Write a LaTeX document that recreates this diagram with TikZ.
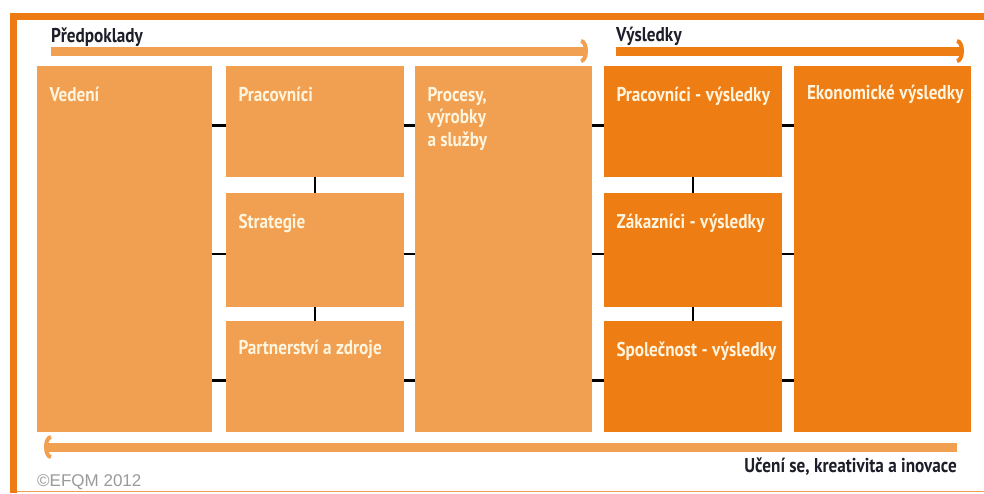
\documentclass[tikz,border=0pt]{standalone}
\usepackage{fontspec}
\setmainfont{PT Sans}
\newfontfamily\efqmfont[FakeStretch=0.86]{PT Sans}
\newfontfamily\efqmnote{Liberation Sans}
\usetikzlibrary{arrows.meta}
\definecolor{efqmlight}{HTML}{F0A050}
\definecolor{efqmdark}{HTML}{EE7D14}
\definecolor{efqmframe}{HTML}{EE7A14}
\definecolor{efqmtext}{HTML}{FFF4DE}
\definecolor{efqmink}{HTML}{1E1E2A}
\definecolor{efqmgray}{HTML}{9A9A9A}
\tikzset{
    boxlabel/.style={anchor=base west,xshift=12.5pt,yshift=-35pt,inner sep=0pt,
        text=efqmtext,align=left,font=\efqmfont\bfseries\fontsize{20}{22.5}\selectfont},
    headtext/.style={anchor=base west,inner sep=0pt,text=efqmink,
        font=\efqmfont\bfseries\fontsize{20}{22}\selectfont},
    link/.style={line width=2.2pt,black},
    flow/.style={line width=9pt,-{Arc Barb[length=7pt,width=24pt,line width=4pt]}}
}
\begin{document}
\begin{tikzpicture}[x=1pt,y=-1pt]
        \useasboundingbox (0,0) rectangle (984,493);
        \fill[white] (0,0) rectangle (984,493);

        % frame
        \fill[efqmframe] (10,13) rectangle (984,20);
        \fill[efqmframe] (10,13) rectangle (17,493);
        \draw[efqmlight,line width=1.5pt] (17,491.5) -- (984,491.5);

        \begin{scope}[every node/.style={rectangle,anchor=north west,
                        inner sep=0pt,outer sep=0pt}]
            \node (ved) at (37,66) [fill=efqmlight,minimum width=175pt,minimum height=366pt,
                label={[boxlabel]north west:Vedení}]{};
            \node (prac) at (226,66) [fill=efqmlight,minimum width=178pt,minimum height=111pt,
                label={[boxlabel]north west:Pracovníci}]{};
            \node (strat) at (226,193) [fill=efqmlight,minimum width=178pt,minimum height=114pt,
                label={[boxlabel]north west:Strategie}]{};
            \node (part) at (226,321) [fill=efqmlight,minimum width=178pt,minimum height=111pt,
                label={[boxlabel,yshift=2pt]north west:Partnerství a zdroje}]{};
            \node (proc) at (415,66) [fill=efqmlight,minimum width=177pt,minimum height=366pt,
                label={[boxlabel,yshift=-45pt]north west:Procesy,\\výrobky\\a služby}]{};
            \node (pvys) at (604,66) [fill=efqmdark,minimum width=178pt,minimum height=111pt,
                label={[boxlabel]north west:Pracovníci - výsledky}]{};
            \node (zvys) at (604,193) [fill=efqmdark,minimum width=178pt,minimum height=114pt,
                label={[boxlabel]north west:Zákazníci - výsledky}]{};
            \node (svys) at (604,321) [fill=efqmdark,minimum width=178pt,minimum height=111pt,
                label={[boxlabel]north west:Společnost - výsledky}]{};
            \node (ekon) at (794,66) [fill=efqmdark,minimum width=177pt,minimum height=366pt,
                label={[boxlabel,xshift=0.5pt,yshift=2pt]north west:Ekonomické výsledky}]{};
        \end{scope}

        % arrows and headings
        \node[headtext] (pred) at (51,42.5) {Předpoklady};
        \node[headtext] (vysl) at (616,41.5) {Výsledky};
        \coordinate (predend) at (588,51);
        \coordinate (vyslend) at (964,51);
        \coordinate (ucstart) at (957,447);
        \coordinate (ucend) at (44,447);
        \draw[flow,efqmlight] (pred.base west |- predend) -- (predend);
        \draw[flow,efqmdark] (vysl.base west |- vyslend) -- (vyslend);
        \draw[flow,efqmlight] (ucstart) -- (ucend);
        \node[headtext,anchor=base east] (ucen) at (957,472) {Učení se, kreativita a inovace};
        \node[anchor=base west,inner sep=0pt,text=efqmgray,font=\efqmnote\fontsize{17}{19}\selectfont]
            (efqm) at (37,486) {©EFQM 2012};

        % connectors
        \path[link] ([yshift=-4pt]prac.west) edge ([yshift=-4pt]prac.west -| ved.east);
        \path[link] ([yshift=-4pt]strat.west) edge ([yshift=-4pt]strat.west -| ved.east);
        \path[link] ([yshift=-4pt]part.west) edge ([yshift=-4pt]part.west -| ved.east);
        \path[link] ([yshift=-4pt]prac.east) edge ([yshift=-4pt]prac.east -| proc.west);
        \path[link] ([yshift=-4pt]strat.east) edge ([yshift=-4pt]strat.east -| proc.west);
        \path[link] ([yshift=-4pt]part.east) edge ([yshift=-4pt]part.east -| proc.west);
        \path[link] ([yshift=-4pt]pvys.west) edge ([yshift=-4pt]pvys.west -| proc.east);
        \path[link] ([yshift=-4pt]zvys.west) edge ([yshift=-4pt]zvys.west -| proc.east);
        \path[link] ([yshift=-4pt]svys.west) edge ([yshift=-4pt]svys.west -| proc.east);
        \path[link] ([yshift=-4pt]pvys.east) edge ([yshift=-4pt]pvys.east -| ekon.west);
        \path[link] ([yshift=-4pt]zvys.east) edge ([yshift=-4pt]zvys.east -| ekon.west);
        \path[link] ([yshift=-4pt]svys.east) edge ([yshift=-4pt]svys.east -| ekon.west);
        \path[link,line width=1.8pt] (prac.south) edge (strat.north);
        \path[link,line width=1.8pt] (strat.south) edge (part.north);
        \path[link,line width=1.8pt] (pvys.south) edge (zvys.north);
        \path[link,line width=1.8pt] (zvys.south) edge (svys.north);
\end{tikzpicture}
\end{document}
